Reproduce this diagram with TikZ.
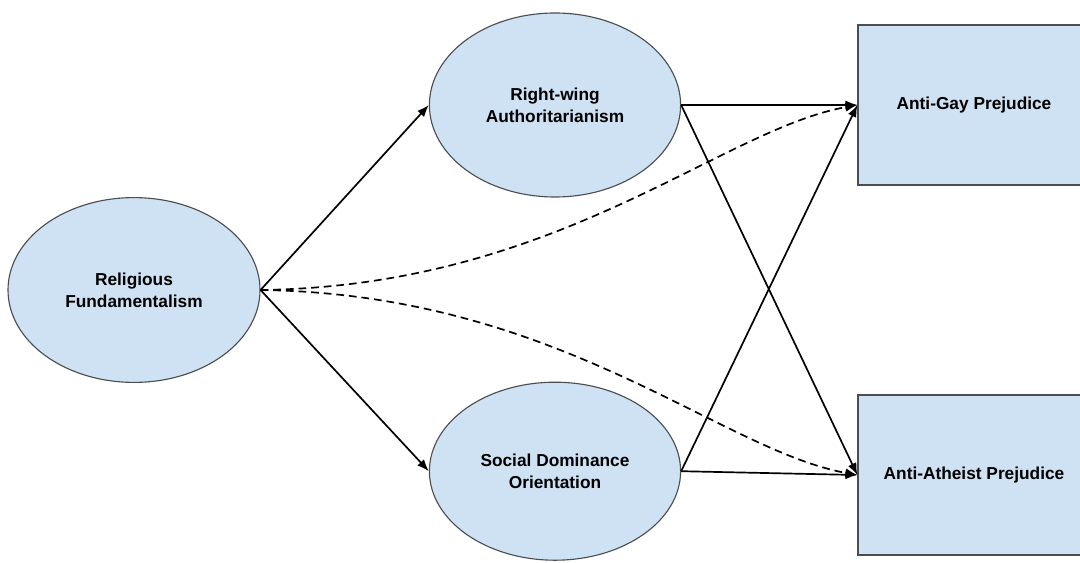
\documentclass[tikz,border=0pt]{standalone}
\usepackage{fontspec}
\setmainfont{Liberation Sans}
\usepackage{tikz}
\usetikzlibrary{positioning}
\usetikzlibrary{arrows.meta}
\usetikzlibrary{shapes}
\definecolor{boxblue}{HTML}{CFE2F3}
\definecolor{boxline}{HTML}{4A4E52}
\tikzset{
        pathnode/.style={align=center,inner sep=0pt,font=\bfseries\fontsize{12.3}{15.4}\selectfont},
        % Latent variables
        node_latent/.style={pathnode, ellipse, fill=boxblue, draw=boxline, line width=0.8pt, minimum width=6.28cm, minimum height=4.6cm},
        % Outcome variables
        node_outcome/.style={pathnode, rectangle, fill=boxblue, draw=boxline, line width=0.9pt, minimum width=5.8cm, minimum height=4cm},
        % Direct paths
        path_direct/.style={-{Latex[length=8.5pt,width=6.5pt]}, line width=1.2pt},
        % Indirect paths
        path_indirect/.style={path_direct, dash pattern=on 5.5pt off 3.5pt}
}
\begin{document}
\begin{tikzpicture}
            \clip (0,0) rectangle (27,14.05);
            \node[node_latent, minimum width=6.3cm, minimum height=4.62cm] (rf) at (3.35,6.8) {Religious\\Fundamentalism};
            \node[node_latent] (rwa) at (13.875,11.425) {Right-wing\\Authoritarianism};
            \node[node_latent, minimum height=4.45cm] (sdo) at (13.875,2.27) {Social Dominance\\Orientation};
            \node[node_outcome] (agp) at (24.35,11.425) {Anti-Gay Prejudice};
            \node[node_outcome] (aap) at (24.35,2.175) {Anti-Atheist Prejudice};

            \draw[path_direct] (rf.east) -- (rwa.west);
            \draw[path_direct] (rf.east) -- (sdo.west);
            \draw[path_direct] (rwa.east) -- (agp.west);
            \draw[path_direct] (rwa.east) -- (aap.west);
            \draw[path_direct] (sdo.east) -- (agp.west);
            \draw[path_direct] (sdo.east) -- (aap.west);
            \draw[path_indirect] (rf.east) .. controls +(7.45,0.1) and +(-3.45,-0.625) .. (agp.west);
            \draw[path_indirect] (rf.east) .. controls +(7.45,-0.1) and +(-3.45,0.625) .. (aap.west);
\end{tikzpicture}
\end{document}
